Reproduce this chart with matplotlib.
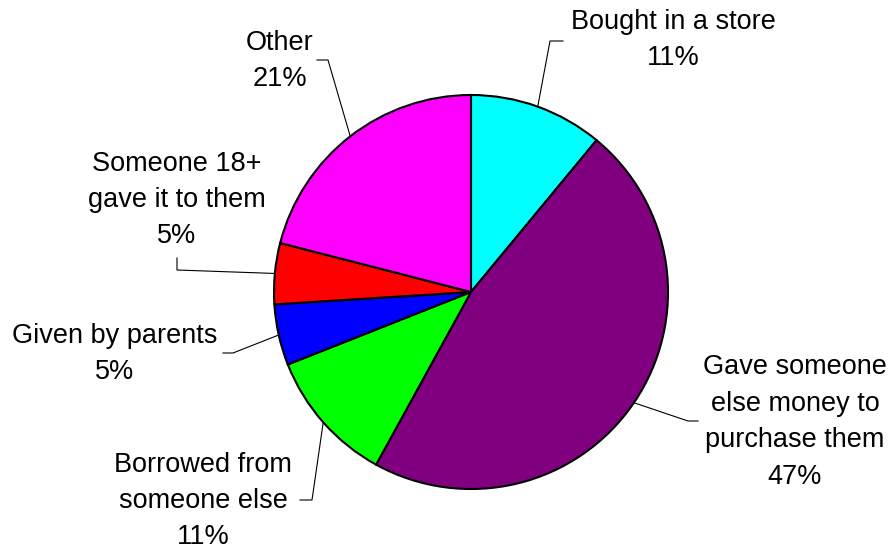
import numpy as np
import matplotlib
matplotlib.use('Agg')
import matplotlib.pyplot as plt

# data (clockwise from 12 o'clock)
labels = ['Bought in a store', 'Gave someone\nelse money to\npurchase them',
          'Borrowed from\nsomeone else', 'Given by parents',
          'Someone 18+\ngave it to them', 'Other']
values = [11, 47, 11, 5, 5, 21]
colors = ['#00FFFF', '#800080', '#00FF00', '#0000FF', '#FF0000', '#FF00FF']

# label layout, in pixels of the 896x550 image: text centre, elbow, line end
CX, CY, R = 471, 292, 197
text_pos = [(673, 40), (795, 422), (203, 501), (115, 354), (177, 200), (280, 61)]
elbows = [(550, 41), (688, 421), (312, 500), (233, 353), (177, 270), (328, 60)]
ends = [(563, 41), (698, 421), (300, 500), (223, 353), (177, 258), (317, 60)]

plt.rcParams['font.family'] = ['Liberation Sans', 'DejaVu Sans']

fig = plt.figure(figsize=(8.96, 5.5), dpi=100)
ax = fig.add_axes([(CX - R) / 896, (550 - CY - R) / 550, 2 * R / 896, 2 * R / 550])

wedges, _ = ax.pie(values, colors=colors, startangle=90, counterclock=False,
                   radius=1.0, center=(0, 0),
                   wedgeprops=dict(edgecolor='black', linewidth=1.5))
ax.set_xlim(-1, 1); ax.set_ylim(-1, 1)
ax.set_aspect('auto')
ax.axis('off')

def px2d(p):
    return (p[0] - CX) / R, (CY - p[1]) / R

total = float(sum(values))
cum = 0.0
for i, v in enumerate(values):
    mid = (cum + v / 2) / total * 2 * np.pi
    cum += v
    ex, ey = np.sin(mid), np.cos(mid)
    bx, by = px2d(elbows[i])
    nx, ny = px2d(ends[i])
    ax.plot([ex, bx, nx], [ey, by, ny], color='black', linewidth=0.8,
            clip_on=False, zorder=5)
    tx, ty = px2d(text_pos[i])
    ax.text(tx, ty, f'{labels[i]}\n{v}%', ha='center', va='center',
            fontsize=19.5, linespacing=1.52, clip_on=False)

fig.savefig('out.png', dpi=100)
